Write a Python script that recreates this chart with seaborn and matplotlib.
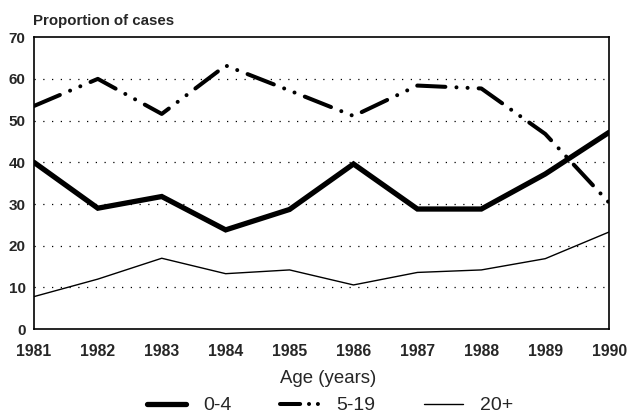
import seaborn as sns
from matplotlib import pyplot as plt
import pandas as pd

years = [1981, 1982, 1983, 1984, 1985, 1986, 1987, 1988, 1989, 1990]
age_0_4 = [40, 29, 31.8, 23.8, 28.7, 39.6, 28.8, 28.8, 37.2, 47.2]
age_5_19 = [53.5, 60, 51.6, 63.2, 57.2, 51.1, 58.4, 57.7, 46.8, 30.3]
age_20 = [7.8, 12, 17, 13.3, 14.2, 10.6, 13.6, 14.2, 16.9, 23.3]
yticks = [0, 10, 20, 30, 40, 50, 60, 70]

df = pd.DataFrame({'year': years, '0-4': age_0_4, '5-19': age_5_19, '20+': age_20})

sns.set_style('white')
plt.rcParams['font.family'] = ['Liberation Sans', 'DejaVu Sans']

fig = plt.figure(figsize=(6.28, 4.13), dpi=100)
ax = fig.add_axes([0.054, 0.203, 0.916, 0.707])

# dotted gridlines
for v in yticks[1:-1]:
    ax.axhline(v, color='black', lw=0.9, ls=(0, (1, 6)), zorder=0)

sns.lineplot(data=df, x='year', y='0-4', ax=ax, color='black', linewidth=3.8,
             label='0-4', solid_joinstyle='miter')
sns.lineplot(data=df, x='year', y='5-19', ax=ax, color='black', linewidth=2.9,
             label='5-19', linestyle=(0, (7, 2.75, 0.01, 2.75, 0.01, 2.75)),
             dash_capstyle='round')
sns.lineplot(data=df, x='year', y='20+', ax=ax, color='black', linewidth=1.0,
             label='20+')

ax.set_xlim(1981, 1990)
ax.set_ylim(0, 70)
ax.set_xticks(years)
ax.set_yticks(yticks)
ax.tick_params(axis='x', length=0, pad=10.5)
ax.tick_params(axis='y', length=0, pad=6)
for t in ax.get_xticklabels():
    t.set_fontsize(11.3)
    t.set_fontweight('bold')
for t in ax.get_yticklabels():
    t.set_fontsize(11)
    t.set_fontweight('bold')
for s in ax.spines.values():
    s.set_color('black')
    s.set_linewidth(1.2)

ax.set_ylabel('')
ax.set_xlabel('Age (years)', fontsize=13.4)
ax.xaxis.set_label_coords(0.511, -0.168)
ax.xaxis.label.set_verticalalignment('center')
ax.text(-0.002, 1.055, 'Proportion of cases', transform=ax.transAxes,
        fontsize=10.8, fontweight='bold', ha='left', va='center')

leg = ax.legend(loc='center', bbox_to_anchor=(0.515, -0.262), ncol=3, frameon=False,
                fontsize=14, handlelength=2.0, columnspacing=2.5, handletextpad=0.9,
                borderpad=0.1)
leg.get_lines()[1].set_dashes((5, 2.2, 0.01, 2.2, 0.01, 5))

plt.savefig('out.png', dpi=100)
